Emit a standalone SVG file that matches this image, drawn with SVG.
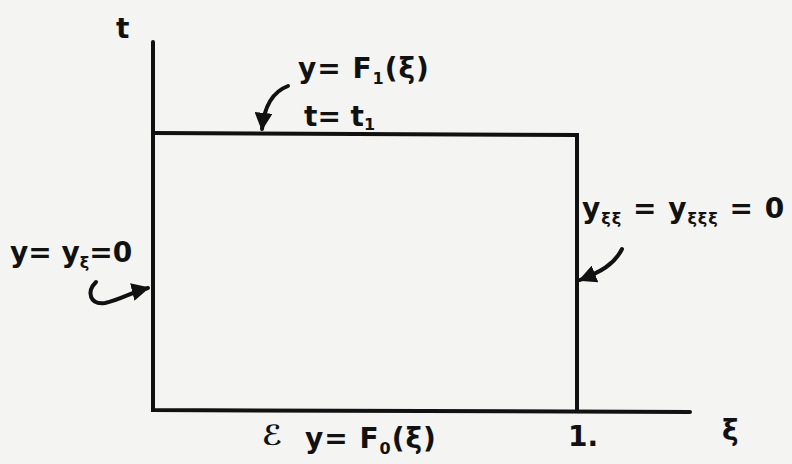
<svg xmlns="http://www.w3.org/2000/svg" width="792" height="464" viewBox="0 0 792 464">
<style>
.ln{stroke:#111;stroke-width:4;fill:none;stroke-linecap:round}
.tx{font-family:"DejaVu Sans",sans-serif;font-weight:bold;fill:#111;font-size:28px}
.sb{font-size:16px}
</style>
<defs>
<marker id="ah" viewBox="0 0 10 10" refX="9" refY="5" markerWidth="4.5" markerHeight="4.5" orient="auto">
<path d="M0,0 L10,5 L0,10 Z" fill="#111"/>
</marker>
</defs>
<rect width="792" height="464" fill="#f4f4f2"/>
<g id="axes">
<path class="ln" d="M153,42 L153,410 L690,412"/>
</g>
<g id="region">
<path class="ln" d="M153,133 L577,135 L577,410"/>
</g>
<g id="connectors">
<path class="ln" marker-end="url(#ah)" d="M288,86 C272,92 264,108 262,129"/>
<path class="ln" marker-end="url(#ah)" d="M622,249 C614,265 600,272 580,280"/>
<path class="ln" marker-end="url(#ah)" d="M96,282 C86,292 90,305 105,303 C120,300 132,292 148,288"/>
</g>
<g id="label-t"><text class="tx" x="116" y="38">t</text></g>
<g id="label-top">
<text class="tx" x="298" y="78" letter-spacing="1">y= F<tspan class="sb" dy="6">1</tspan><tspan dy="-6">(ξ)</tspan></text>
<text class="tx" x="304" y="126">t= t<tspan class="sb" dy="4">1</tspan></text>
</g>
<g id="label-right">
<text class="tx" x="582" y="218" letter-spacing="1">y<tspan class="sb" dy="6">ξξ</tspan><tspan dy="-6"> = y</tspan><tspan class="sb" dy="6">ξξξ</tspan><tspan dy="-6"> = 0</tspan></text>
</g>
<g id="label-left">
<text class="tx" x="10" y="262">y= y<tspan class="sb" dy="6">ξ</tspan><tspan dy="-6">=0</tspan></text>
</g>
<g id="label-bottom">
<text class="tx" x="262" y="445" font-family="DejaVu Sans" font-size="30">ℰ</text>
<text class="tx" x="305" y="448" letter-spacing="1">y= F<tspan class="sb" dy="6">0</tspan><tspan dy="-6">(ξ)</tspan></text>
</g>
<g id="label-one"><text class="tx" x="568" y="446">1.</text></g>
<g id="label-xi"><text class="tx" x="722" y="440">ξ</text></g>
</svg>
